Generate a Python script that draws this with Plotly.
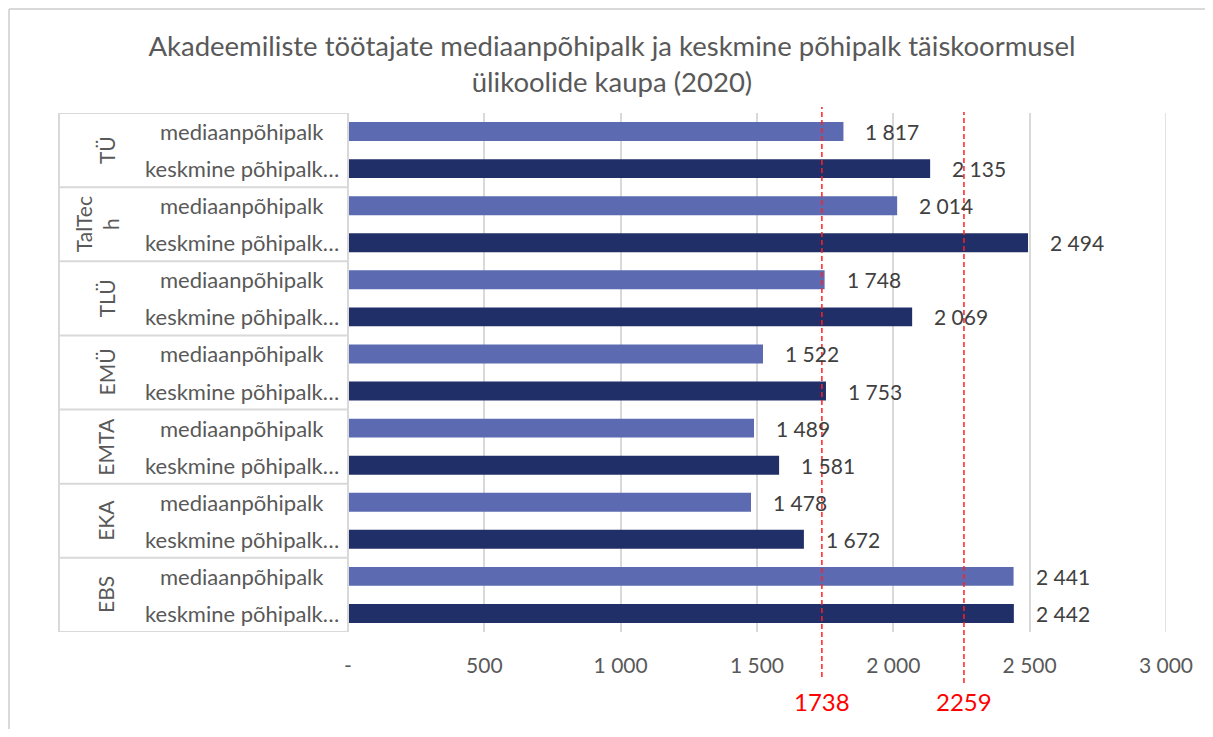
import plotly.graph_objects as go

# ---- data ----
groups = ["TÜ", "TalTech", "TLÜ", "EMÜ", "EMTA", "EKA", "EBS"]
group_display = ["TÜ", "TalTec<br>h", "TLÜ", "EMÜ", "EMTA", "EKA", "EBS"]
series_names = ["mediaanpõhipalk", "keskmine põhipalk…"]
median_pay = [1817, 2014, 1748, 1522, 1489, 1478, 2441]
mean_pay = [2135, 2494, 2069, 1753, 1581, 1672, 2442]
ref_values = [1738, 2259]
x_ticks = [0, 500, 1000, 1500, 2000, 2500, 3000]
x_ticktext = ["-", "500", "1 000", "1 500", "2 000", "2 500", "3 000"]
title_text = ("Akadeemiliste töötajate mediaanpõhipalk ja keskmine põhipalk täiskoormusel"
              "<br>ülikoolide kaupa (2020)")

FONT = "Lato"
GREY = "#595959"
LINE = "#D9D9D9"
C_MED = "#5B6AB1"
C_MEAN = "#212F69"

# page has an 8px body margin; work in page pixels and convert
OFF = 8
FW, FH = 1213 - 2 * OFF, 737 - 2 * OFF
P_LEFT, P_RIGHT, P_TOP, P_BOTTOM = 348, 1166, 113, 632  # plot area in page px
ML = P_LEFT - OFF
MT = P_TOP - OFF
MR = FW - (P_RIGHT - OFF)
MB = FH - (P_BOTTOM - OFF)
PW = P_RIGHT - P_LEFT
PH = P_BOTTOM - P_TOP


def px_to_paper_x(px):
    return (px - P_LEFT) / PW


def px_to_paper_y(py):
    return 1 - (py - P_TOP) / PH


def fmt(v):
    return f"{v:,}".replace(",", " ")


n = len(groups)
pos_med = [2 * i for i in range(n)]
pos_mean = [2 * i + 1 for i in range(n)]

fig = go.Figure()
fig.add_trace(go.Bar(y=pos_med, x=median_pay, orientation="h", width=0.51,
                     marker=dict(color=C_MED, line=dict(width=0)),
                     name=series_names[0], hoverinfo="x"))
fig.add_trace(go.Bar(y=pos_mean, x=mean_pay, orientation="h", width=0.51,
                     marker=dict(color=C_MEAN, line=dict(width=0)),
                     name=series_names[1], hoverinfo="x"))

annotations = []
shapes = []

# data labels
for p, v in list(zip(pos_med, median_pay)) + list(zip(pos_mean, mean_pay)):
    annotations.append(dict(x=v, y=p, xref="x", yref="y", text=fmt(v),
                            showarrow=False, xanchor="left", yanchor="middle",
                            xshift=20, font=dict(family=FONT, size=21, color="#404040")))

# inner category labels
for p in pos_med:
    annotations.append(dict(x=px_to_paper_x(242), y=p, xref="paper", yref="y",
                            text=series_names[0], showarrow=False, xanchor="center",
                            yanchor="middle", font=dict(family=FONT, size=22, color=GREY)))
for p in pos_mean:
    annotations.append(dict(x=px_to_paper_x(242), y=p, xref="paper", yref="y",
                            text=series_names[1], showarrow=False, xanchor="center",
                            yanchor="middle", font=dict(family=FONT, size=22, color=GREY)))

# outer group labels (rotated)
for i, g in enumerate(group_display):
    lines = g.count("<br>") + 1
    cx = 106 - (lines - 1) * 9
    annotations.append(dict(x=px_to_paper_x(cx), y=2 * i + 0.5, xref="paper", yref="y",
                            text=g, showarrow=False, textangle=-90, xanchor="center",
                            yanchor="middle", font=dict(family=FONT, size=21, color=GREY)))

# group separators and frame of the category axis
for i in range(n + 1):
    yb = 2 * i - 0.5
    shapes.append(dict(type="line", xref="paper", yref="y", x0=px_to_paper_x(59), x1=0,
                       y0=yb, y1=yb, line=dict(color=LINE, width=2), layer="below"))
shapes.append(dict(type="line", xref="paper", yref="paper", x0=px_to_paper_x(59),
                   x1=px_to_paper_x(59), y0=0, y1=1, line=dict(color=LINE, width=2)))
shapes.append(dict(type="line", xref="paper", yref="paper", x0=0, x1=0, y0=0, y1=1,
                   line=dict(color=LINE, width=2)))
# gridline at the right end of the value axis
shapes.append(dict(type="line", xref="x", yref="paper", x0=x_ticks[-1], x1=x_ticks[-1],
                   y0=0, y1=1, line=dict(color=LINE, width=1.5), layer="below"))

# chart border (only top & left are visible in the reference)
shapes.append(dict(type="line", xref="paper", yref="paper", x0=px_to_paper_x(OFF + 1),
                   x1=px_to_paper_x(1260), y0=px_to_paper_y(OFF + 1), y1=px_to_paper_y(OFF + 1),
                   line=dict(color=LINE, width=2), layer="below"))
shapes.append(dict(type="line", xref="paper", yref="paper", x0=px_to_paper_x(OFF + 1),
                   x1=px_to_paper_x(OFF + 1), y0=px_to_paper_y(800), y1=px_to_paper_y(OFF + 1),
                   line=dict(color=LINE, width=2), layer="below"))

# reference dashed lines and red labels
ref_extents = [(107, 677), (112, 683)]
for v, (top, bot) in zip(ref_values, ref_extents):
    shapes.append(dict(type="line", xref="x", yref="paper", x0=v, x1=v,
                       y0=px_to_paper_y(bot), y1=px_to_paper_y(top),
                       line=dict(color="#FF2020", width=1.5, dash="5px,3px"), layer="above"))
    annotations.append(dict(x=v, y=px_to_paper_y(701), xref="x", yref="paper", text=str(v),
                            showarrow=False, xanchor="center", yanchor="middle",
                            font=dict(family=FONT, size=24, color="#FF0000")))

fig.update_layout(
    width=FW, height=FH,
    margin=dict(l=ML, r=MR, t=MT, b=MB, pad=0),
    paper_bgcolor="white", plot_bgcolor="white",
    showlegend=False,
    title=dict(text=title_text, x=(612 - OFF) / FW, xref="container", xanchor="center",
               y=1 - (56 - OFF) / FH, yref="container", yanchor="middle",
               font=dict(family=FONT, size=27.5, color=GREY)),
    xaxis=dict(range=[0, 3000], tickvals=x_ticks, ticktext=x_ticktext,
               showgrid=True, gridcolor=LINE, gridwidth=1.5, zeroline=False,
               showline=False, ticks="outside", ticklen=15, tickcolor="rgba(0,0,0,0)",
               tickfont=dict(family=FONT, size=21, color=GREY), fixedrange=True),
    yaxis=dict(range=[2 * n - 0.5, -0.5], showticklabels=False, showgrid=False,
               zeroline=False, showline=False, fixedrange=True),
    annotations=annotations,
    shapes=shapes,
    bargap=0.49,
)

fig.write_html("out.html")
